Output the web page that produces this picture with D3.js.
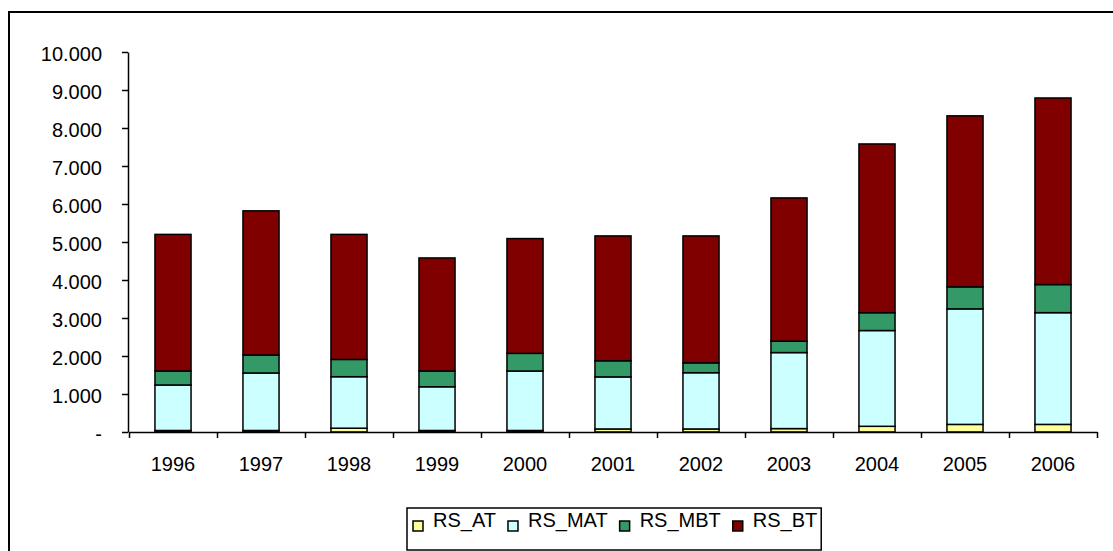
<!DOCTYPE html>
<html>
<head>
<meta charset="utf-8">
<script src="https://cdn.jsdelivr.net/npm/d3@7"></script>
<style>
  body { margin: 0; background: #fff; }
  svg { display: block; font-family: "Liberation Sans", Arial, sans-serif; }
  .axis text { font-size: 20px; fill: #000; }
  .axis path, .axis line { stroke: #000; stroke-width: 1.5; }
  .legend text { font-size: 20px; fill: #000; }
</style>
</head>
<body>
<div id="chart"></div>
<script>
const years = ['1996', '1997', '1998', '1999', '2000', '2001', '2002', '2003', '2004', '2005', '2006'];
const seriesNames = ['RS_AT', 'RS_MAT', 'RS_MBT', 'RS_BT'];
const seriesColors = ['#FFFF99', '#CCFFFF', '#339966', '#800000'];
const rsAT = [40, 40, 100, 40, 40, 80, 80, 90, 150, 200, 200];
const rsMAT = [1197, 1513, 1355, 1150, 1565, 1370, 1480, 2000, 2520, 3040, 2940];
const rsMBT = [368, 473, 455, 415, 465, 425, 260, 300, 470, 580, 740];
const rsBT = [3595, 3794, 3290, 2975, 3020, 3285, 3340, 3770, 4440, 4500, 4910];
const yTicks = [0, 1000, 2000, 3000, 4000, 5000, 6000, 7000, 8000, 9000, 10000];

const chart = {
  width: 1113,
  height: 551,
  left: 129,
  right: 1097,
  top: 52,
  bottom: 432
};

const locale = d3.formatLocale({ decimal: ',', thousands: '.', grouping: [3], currency: ['', ''] });
const numFormat = locale.format(',.0f');

const rows = years.map((year, i) => ({
  year,
  RS_AT: rsAT[i],
  RS_MAT: rsMAT[i],
  RS_MBT: rsMBT[i],
  RS_BT: rsBT[i]
}));

const stacked = d3.stack().keys(seriesNames)(rows);

const xScale = d3.scaleBand()
  .domain(years)
  .range([chart.left, chart.right])
  .paddingInner(0.59)
  .paddingOuter(0.295);

// boundaries between categories, where the ticks sit
const xEdges = d3.scaleLinear()
  .domain([0, years.length])
  .range([chart.left, chart.right]);

const yScale = d3.scaleLinear()
  .domain([0, 10000])
  .range([chart.bottom, chart.top]);

const color = d3.scaleOrdinal().domain(seriesNames).range(seriesColors);

const svg = d3.select('#chart')
  .append('svg')
  .attr('width', chart.width)
  .attr('height', chart.height);

svg.append('rect')
  .attr('x', 9)
  .attr('y', 12)
  .attr('width', 1130)
  .attr('height', 560)
  .attr('fill', '#fff')
  .attr('stroke', '#000')
  .attr('stroke-width', 2);

// bars
svg.append('g')
  .selectAll('g')
  .data(stacked)
  .enter()
    .append('g')
    .attr('fill', (d) => color(d.key))
    .selectAll('rect')
    .data((d) => d)
    .enter()
      .append('rect')
      .attr('x', (d) => xScale(d.data.year))
      .attr('y', (d) => yScale(d[1]))
      .attr('width', xScale.bandwidth())
      .attr('height', (d) => yScale(d[0]) - yScale(d[1]))
      .attr('stroke', '#000')
      .attr('stroke-width', 1.5);

// y axis
svg.append('g')
  .attr('class', 'axis y')
  .attr('transform', `translate(${chart.left - 1}, 0)`)
  .call(d3.axisLeft(yScale)
    .tickValues(yTicks)
    .tickSize(6)
    .tickSizeOuter(0)
    .tickPadding(20)
    .tickFormat((d) => d === 0 ? '-' : numFormat(d)))
  .selectAll('text')
    .attr('dy', '0.4em');

// x axis: ticks on category edges, labels centred
svg.append('g')
  .attr('class', 'axis x')
  .attr('transform', `translate(0, ${chart.bottom})`)
  .call(d3.axisBottom(xEdges)
    .tickValues(d3.range(years.length + 1))
    .tickSize(6)
    .tickSizeOuter(0)
    .tickFormat(''));

svg.append('g')
  .attr('class', 'axis x-labels')
  .attr('transform', `translate(0, ${chart.bottom})`)
  .call(d3.axisBottom(xScale).tickSize(0).tickPadding(25))
  .call((g) => g.select('.domain').remove());

// legend
const legend = svg.append('g').attr('class', 'legend');
const legendBox = legend.append('rect')
  .attr('fill', '#fff')
  .attr('stroke', '#000')
  .attr('stroke-width', 1.5);

let cursor = 413;
seriesNames.forEach((name) => {
  legend.append('rect')
    .attr('x', cursor)
    .attr('y', 521)
    .attr('width', 10)
    .attr('height', 10)
    .attr('fill', color(name))
    .attr('stroke', '#000')
    .attr('stroke-width', 1.5);
  const label = legend.append('text')
    .attr('x', cursor + 20)
    .attr('y', 527)
    .text(name);
  cursor += 20 + label.node().getComputedTextLength() + 12;
});

legendBox
  .attr('x', 407)
  .attr('y', 508)
  .attr('width', cursor - 12 + 4 - 407)
  .attr('height', 42);
</script>
</body>
</html>
